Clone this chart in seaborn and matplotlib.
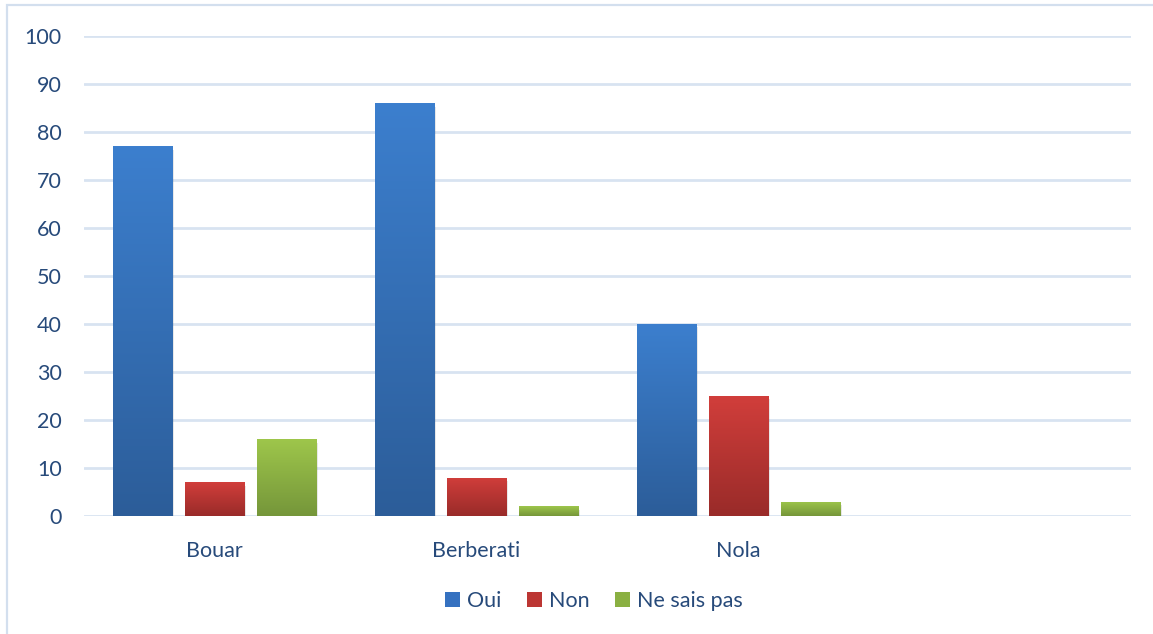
import numpy as np
import pandas as pd
import matplotlib
matplotlib.use("Agg")
import matplotlib.pyplot as plt
import matplotlib.patheffects as pe
from matplotlib.colors import LinearSegmentedColormap
from matplotlib.patches import Rectangle, Patch
import seaborn as sns

# ---- data ----
categories = ["Bouar", "Berberati", "Nola"]
series_names = ["Oui", "Non", "Ne sais pas"]
oui = [77, 86, 40]
non = [7, 8, 25]
nsp = [16, 2, 3]
yticks = [0, 10, 20, 30, 40, 50, 60, 70, 80, 90, 100]

rows = []
for name, vals in zip(series_names, [oui, non, nsp]):
    for c, v in zip(categories, vals):
        rows.append({"Lieu": c, "Réponse": name, "Valeur": v})
df = pd.DataFrame(rows)

# ---- style ----
sns.set_theme(style="white")
FONT = ["Lato", "DejaVu Sans"]
plt.rcParams["font.family"] = FONT
TEXT = "#274A7A"
GRID = "#D8E3F1"
mid_colors = ["#3571C0", "#BC3633", "#8AB042"]
grads = [("#3C7FCE", "#2C5D99"), ("#D13E3B", "#992B29"), ("#9EC64B", "#75963A")]

fig = plt.figure(figsize=(11.53, 6.34), dpi=100)
ax = fig.add_axes([84 / 1153, 1 - 516 / 634, (1131 - 84) / 1153, (516 - 36) / 634])

sns.barplot(data=df, x="Lieu", y="Valeur", hue="Réponse", order=categories,
            hue_order=series_names, palette=mid_colors, width=0.825, gap=0.18,
            errorbar=None, ax=ax, legend=False, linewidth=0, zorder=3)

ax.set_xlim(-0.5, 3.5)
ax.set_ylim(0, 100)
ax.set_yticks(yticks)
ax.set_yticklabels([str(t) for t in yticks])
ax.set_xlabel("")
ax.set_ylabel("")
ax.grid(axis="y", color=GRID, linewidth=2, zorder=0)
ax.grid(axis="x", visible=False)
for s in ax.spines.values():
    s.set_visible(False)
ax.tick_params(axis="both", length=0, colors=TEXT, labelsize=15.5)
ax.tick_params(axis="y", pad=16)
ax.tick_params(axis="x", pad=18)
for lbl in ax.get_xticklabels() + ax.get_yticklabels():
    lbl.set_color(TEXT)

# gradient fill clipped to each bar
for i, cont in enumerate(ax.containers):
    cmap = LinearSegmentedColormap.from_list(f"g{i}", [grads[i][1], grads[i][0]])
    for bar in cont:
        bar.set_path_effects([pe.SimplePatchShadow(offset=(1.5, -2.5), alpha=0.12, shadow_rgbFace="#444444"), pe.Normal()])
        x0, y0 = bar.get_x(), bar.get_y()
        w, h = bar.get_width(), bar.get_height()
        grad = np.linspace(0, 1, 256).reshape(-1, 1)
        im = ax.imshow(grad, cmap=cmap, aspect="auto", origin="lower",
                       extent=(x0, x0 + w, y0, y0 + h), zorder=4, interpolation="bilinear")
        im.set_clip_path(bar)
ax.set_xlim(-0.5, 3.5)
ax.set_ylim(0, 100)

# legend
handles = [Patch(facecolor=c, edgecolor="none") for c in mid_colors]
fig.legend(handles, series_names, loc="center", bbox_to_anchor=(0.515, 1 - 601 / 634),
           ncol=3, frameon=False, handlelength=0.7, handleheight=0.7,
           handletextpad=0.3, columnspacing=1.2, prop={"family": FONT, "size": 15.5},
           labelcolor=TEXT)

# outer chart border
fig.patches.append(Rectangle((7 / 1153, -0.05), 1.2, 1 - 5 / 634 + 0.05,
                             transform=fig.transFigure, fill=False,
                             edgecolor="#D3DFEE", linewidth=1.6))

fig.savefig("out.png", dpi=100)
